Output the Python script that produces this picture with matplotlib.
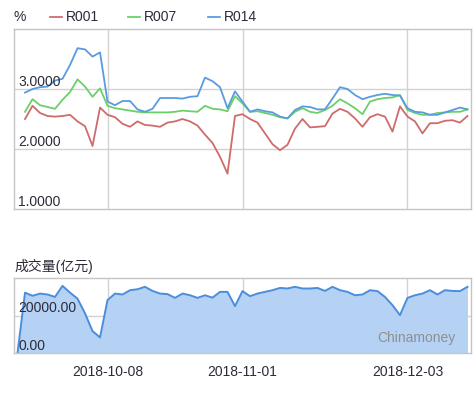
import matplotlib.pyplot as plt
from matplotlib.lines import Line2D

plt.rcParams['font.family'] = ['Liberation Sans', 'Noto Sans CJK SC', 'DejaVu Sans']

# -----------------------------
# data (one point per trading day)
# -----------------------------
r001 = [2.50, 2.72, 2.60, 2.55, 2.54, 2.55, 2.57, 2.46, 2.38, 2.05,
        2.69, 2.57, 2.53, 2.42, 2.37, 2.46, 2.40, 2.39, 2.37, 2.44,
        2.46, 2.50, 2.46, 2.39, 2.24, 2.10, 1.87, 1.59, 2.55, 2.58,
        2.50, 2.44, 2.26, 2.08, 1.98, 2.07, 2.34, 2.50, 2.36, 2.37,
        2.38, 2.59, 2.67, 2.62, 2.51, 2.37, 2.53, 2.58, 2.54, 2.29,
        2.71, 2.54, 2.46, 2.26, 2.43, 2.43, 2.47, 2.48, 2.44, 2.55]
r007 = [2.62, 2.83, 2.73, 2.70, 2.67, 2.82, 2.95, 3.16, 3.04, 2.87,
        3.01, 2.72, 2.68, 2.66, 2.64, 2.62, 2.61, 2.61, 2.61, 2.61,
        2.62, 2.64, 2.63, 2.62, 2.72, 2.67, 2.66, 2.63, 2.88, 2.76,
        2.62, 2.63, 2.60, 2.57, 2.53, 2.51, 2.62, 2.68, 2.62, 2.60,
        2.65, 2.72, 2.83, 2.76, 2.68, 2.58, 2.79, 2.83, 2.85, 2.86,
        2.90, 2.65, 2.60, 2.57, 2.57, 2.60, 2.61, 2.62, 2.62, 2.66]
r014 = [2.94, 3.00, 3.03, 3.04, 3.14, 3.17, 3.40, 3.68, 3.66, 3.54,
        3.61, 2.79, 2.73, 2.80, 2.80, 2.66, 2.62, 2.67, 2.85, 2.85,
        2.85, 2.84, 2.87, 2.88, 3.19, 3.13, 3.03, 2.68, 2.96, 2.79,
        2.62, 2.66, 2.63, 2.61, 2.54, 2.51, 2.65, 2.71, 2.70, 2.66,
        2.66, 2.84, 3.03, 3.00, 2.90, 2.83, 2.87, 2.90, 2.92, 2.90,
        2.89, 2.68, 2.62, 2.61, 2.57, 2.57, 2.61, 2.65, 2.69, 2.66]

# volume (亿元), starts one day earlier with an empty record
volume = [0, 32200, 30500, 31700, 31200, 29900, 35800, 32200, 29000, 21100,
          11700, 8300, 28200, 31700, 31200, 33500, 34000, 35300, 33100, 31700,
          31400, 29400, 31700, 30800, 29400, 30800, 29500, 32600, 32600, 25000,
          33000, 30300, 31700, 32600, 33500, 34700, 34400, 35300, 34400, 34400,
          34700, 33100, 35300, 33500, 32600, 30800, 31200, 33500, 33000, 29900,
          25500, 20200, 29400, 30800, 31700, 33500, 31200, 33500, 33100, 33000,
          35300]

tick_idx = [11, 29, 51]
tick_labels = ["2018-10-08", "2018-11-01", "2018-12-03"]

rate_ticks = [1.0, 2.0, 3.0]
vol_ticks = [0, 20000]

x_rate = list(range(len(r001)))
x_vol = list(range(-1, len(volume) - 1))

# -----------------------------
# figure
# -----------------------------
W, H = 476, 396
fig = plt.figure(figsize=(W / 100, H / 100), dpi=100)
ax1 = fig.add_axes([14 / W, 1 - 209 / H, 457 / W, 180 / H])
ax2 = fig.add_axes([14 / W, 1 - 353 / H, 457 / W, 75 / H])

grid_c = "#d2d2d2"
frame_c = "#c4c4c4"
text_c = "#2b2b3a"
red, green, blue = "#cf6b6b", "#6cd068", "#5a9be0"

for ax in (ax1, ax2):
    ax.set_xlim(-1.47, 59.47)
    ax.set_xticks(tick_idx)
    ax.tick_params(length=0)
    for s in ax.spines.values():
        s.set_color(frame_c)
        s.set_linewidth(1.0)
    ax.grid(True, color=grid_c, linewidth=1.0)
    ax.set_axisbelow(True)
    ax.set_yticklabels([])

# top panel: rates
ax1.plot(x_rate, r001, color=red, lw=1.3)
ax1.plot(x_rate, r007, color=green, lw=1.3)
ax1.plot(x_rate, r014, color=blue, lw=1.3)
ax1.set_ylim(1.0, 4.0)
ax1.set_yticks([2.0, 3.0])
ax1.set_xticklabels([])
for v in rate_ticks:
    ax1.text(0.009, v, f"{v:.4f}", transform=ax1.get_yaxis_transform(),
             ha="left", va="bottom", fontsize=10, color=text_c)

# bottom panel: volume
ax2.fill_between(x_vol, volume, 0, color="#b5d2f4", lw=0)
ax2.plot(x_vol, volume, color="#4a8ddc", lw=1.4)
ax2.set_ylim(0, 40000)
ax2.set_yticks([20000])
ax2.set_xticklabels(tick_labels, fontsize=10, color=text_c)
ax2.tick_params(axis="x", pad=9)
for v in vol_ticks:
    ax2.text(0.009, v, f"{v:.2f}", transform=ax2.get_yaxis_transform(),
             ha="left", va="bottom", fontsize=10, color=text_c)
ax2.text(0.965, 0.2, "Chinamoney", transform=ax2.transAxes, ha="right",
         va="center", fontsize=10, color="#8f8f8f")

# legend / titles
fig.text(14 / W, 1 - 17 / H, "%", fontsize=10, color=text_c, va="center")
legend_items = [("R001", red, 50), ("R007", green, 128), ("R014", blue, 208)]
for name, col, x0 in legend_items:
    fig.add_artist(Line2D([x0 / W, (x0 + 12) / W], [1 - 17 / H, 1 - 17 / H],
                          color=col, lw=1.3))
    fig.text((x0 + 16) / W, 1 - 17 / H, name, fontsize=10, color=text_c,
             va="center")

fig.text(14 / W, 1 - 266 / H, "成交量(亿元)", fontsize=10, color=text_c,
         va="center")

fig.savefig("out.png", dpi=100)
